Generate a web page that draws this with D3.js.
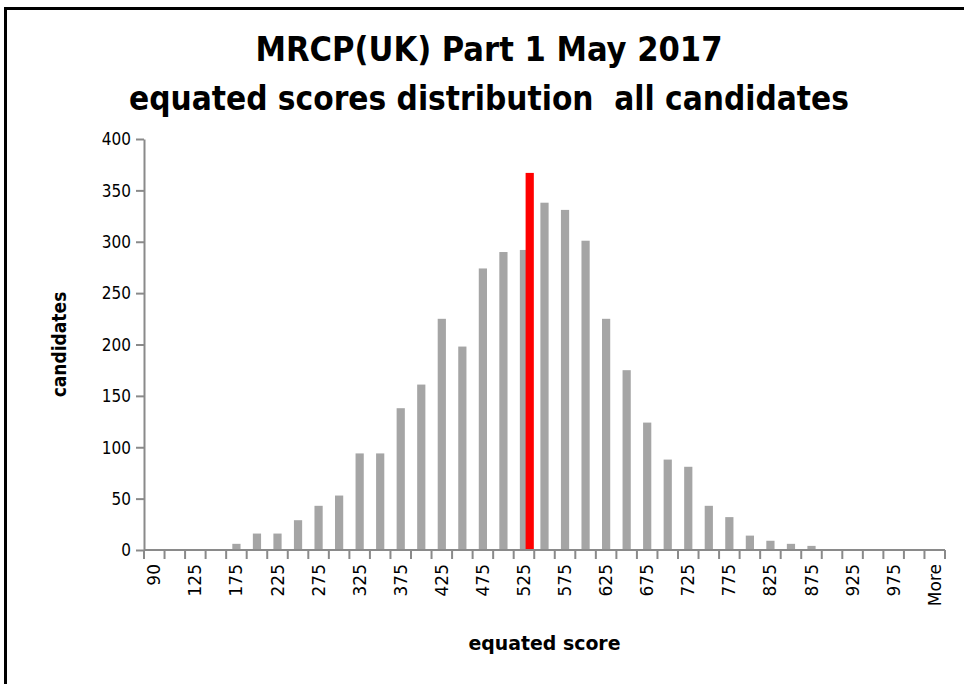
<!DOCTYPE html>
<html>
<head>
<meta charset="utf-8">
<script src="https://cdn.jsdelivr.net/npm/d3@7/dist/d3.min.js"></script>
<style>
  html, body { margin: 0; padding: 0; background: #fff; }
  svg { display: block; }
  text.pre { white-space: pre; }
</style>
</head>
<body>
<svg id="chart" width="964" height="684"></svg>
<script>
// ---- data ----
const titleLines = ["MRCP(UK) Part 1 May 2017", "equated scores distribution  all candidates"];
const xTitle = "equated score";
const yTitle = "candidates";
const categories = ["90","100","125","150","175","200","225","250","275","300",
  "325","350","375","400","425","450","475","500","525","550",
  "575","600","625","650","675","700","725","750","775","800",
  "825","850","875","900","925","950","975","1000","More"];
const candidates = [0,0,0,0,6,16,16,29,43,53,
  94,94,138,161,225,198,274,290,292,338,
  331,301,225,175,124,88,81,43,32,14,
  9,6,4,0,0,0,0,0,0];
const shownTickLabels = ["90","125","175","225","275","325","375","425","475","525",
  "575","625","675","725","775","825","875","925","975","More"];
const yTicks = [0,50,100,150,200,250,300,350,400];
const passMark = 532;        // equated score of pass line
const passLineValue = 367;   // drawn height of pass line

// ---- layout ----
const svg = d3.select("#chart");
const plot = { left: 144, right: 945, top: 139, bottom: 550 };

const x = d3.scaleBand().domain(categories).range([plot.left, plot.right])
  .paddingInner(0.6).paddingOuter(0.3);
const xCat = d3.scaleBand().domain(categories).range([plot.left, plot.right]).padding(0);
const y = d3.scaleLinear().domain([0, 400]).range([plot.bottom, plot.top]);
const xScore = d3.scaleLinear().domain([525, 550])
  .range([xCat("525") + xCat.bandwidth() / 2, xCat("550") + xCat.bandwidth() / 2]);

// border
svg.append("line").attr("x1", 4).attr("x2", 964).attr("y1", 8.5).attr("y2", 8.5)
  .attr("stroke", "#000").attr("stroke-width", 3);
svg.append("line").attr("x1", 5.5).attr("x2", 5.5).attr("y1", 7).attr("y2", 684)
  .attr("stroke", "#000").attr("stroke-width", 3);

// titles
const titleFont = "'Liberation Sans Narrow', 'DejaVu Sans Condensed', 'Liberation Sans', sans-serif";
const titleWidths = [467, 720];
const titleY = [61, 110];
titleLines.forEach((t, i) => {
  svg.append("text")
    .attr("class", "pre")
    .attr("x", 489).attr("y", titleY[i])
    .attr("text-anchor", "middle")
    .attr("font-family", titleFont)
    .attr("font-weight", "bold")
    .attr("font-size", 34)
    .attr("textLength", titleWidths[i])
    .attr("lengthAdjust", "spacingAndGlyphs")
    .attr("fill", "#000")
    .text(t);
});

// bars
svg.append("g").selectAll("rect").data(categories).join("rect")
  .attr("x", d => x(d))
  .attr("width", x.bandwidth())
  .attr("y", (d, i) => y(candidates[i]))
  .attr("height", (d, i) => y(0) - y(candidates[i]))
  .attr("fill", "#a5a5a5");

// pass line
const passW = x.bandwidth();
svg.append("rect")
  .attr("x", xScore(passMark) - passW / 2)
  .attr("width", passW)
  .attr("y", y(passLineValue))
  .attr("height", y(0) - y(passLineValue))
  .attr("fill", "#ff0000");

// y axis
const axisColor = "#8a8a8a";
const yAxis = svg.append("g").attr("transform", `translate(${plot.left},0)`)
  .call(d3.axisLeft(y).tickValues(yTicks).tickSize(8).tickPadding(5).tickSizeOuter(0));
yAxis.select(".domain").attr("stroke", axisColor).attr("stroke-width", 2);
yAxis.selectAll(".tick line").attr("stroke", axisColor).attr("stroke-width", 2);
yAxis.selectAll(".tick text")
  .attr("font-family", "'DejaVu Sans', Verdana, sans-serif")
  .attr("font-size", 18).attr("fill", "#000")
  .each(function () {
    const w = this.getComputedTextLength();
    d3.select(this).attr("textLength", w * 0.85).attr("lengthAdjust", "spacingAndGlyphs");
  });

// x axis line
svg.append("line").attr("x1", plot.left).attr("x2", plot.right)
  .attr("y1", plot.bottom).attr("y2", plot.bottom)
  .attr("stroke", axisColor).attr("stroke-width", 2);
// x ticks at category boundaries
const boundaries = categories.map(c => xCat(c)).concat([plot.right]);
svg.append("g").selectAll("line").data(boundaries).join("line")
  .attr("x1", d => d).attr("x2", d => d)
  .attr("y1", plot.bottom).attr("y2", plot.bottom + 9)
  .attr("stroke", axisColor).attr("stroke-width", 2);
// x tick labels
svg.append("g").selectAll("text").data(shownTickLabels).join("text")
  .attr("transform", d => `translate(${xCat(d) + xCat.bandwidth() / 2 + 6},${plot.bottom + 14}) rotate(-90)`)
  .attr("text-anchor", "end")
  .attr("font-family", "'DejaVu Sans', Verdana, sans-serif")
  .attr("font-size", 17)
  .attr("fill", "#000")
  .text(d => d);

// axis titles
svg.append("text")
  .attr("x", (plot.left + plot.right) / 2).attr("y", 650)
  .attr("text-anchor", "middle")
  .attr("font-family", titleFont)
  .attr("font-weight", "bold").attr("font-size", 20)
  .attr("textLength", 152).attr("lengthAdjust", "spacingAndGlyphs")
  .attr("fill", "#000")
  .text(xTitle);
svg.append("text")
  .attr("transform", `translate(66,${(plot.top + plot.bottom) / 2}) rotate(-90)`)
  .attr("text-anchor", "middle")
  .attr("font-family", titleFont)
  .attr("font-weight", "bold").attr("font-size", 19)
  .attr("fill", "#000")
  .text(yTitle);
</script>
</body>
</html>
